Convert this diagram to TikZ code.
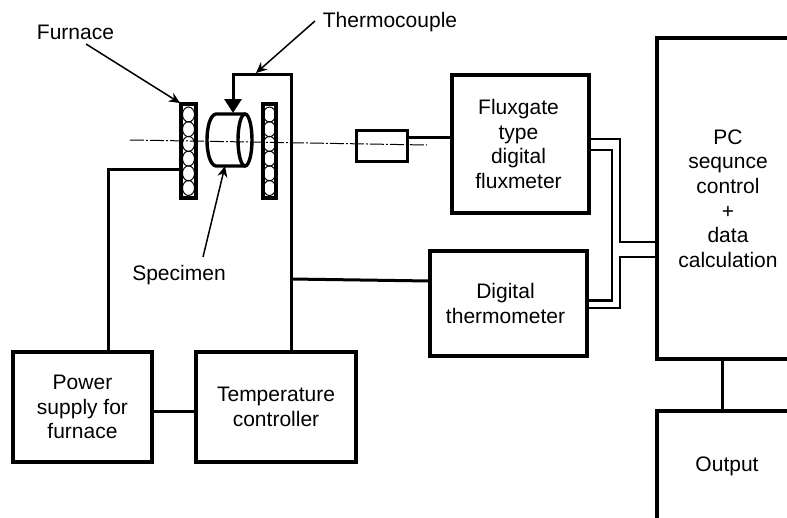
\documentclass[tikz,border=0pt]{standalone}
\usepackage{fontspec}
\setmainfont{Liberation Sans}
\usetikzlibrary{shapes.geometric, arrows.meta, positioning, calc}
\tikzset{
  block/.style={rectangle, draw=black, line width=3.6pt, align=center, inner sep=0pt,
    outer sep=0pt, font=\fontsize{21}{24.6}\selectfont},
  coilbar/.style={rectangle, draw=black, line width=4pt, inner sep=0pt, outer sep=0pt,
    minimum height=94pt},
  coilturn/.style={ellipse, draw=black, line width=1pt, inner sep=0pt, outer sep=0pt,
    minimum width=12pt, minimum height=15pt},
  caption/.style={font=\fontsize{21}{24.6}\selectfont, inner sep=0pt, align=center},
  wire/.style={draw=black, line width=3pt},
  busline/.style={draw=black, line width=2.6pt},
  pointer/.style={-{Stealth[length=11pt, width=10pt]}, line width=1.5pt},
  probe/.style={-{Stealth[length=14pt, width=17pt, inset=0pt]}, line width=3pt},
  axisline/.style={line width=1pt, dash pattern=on 14pt off 2pt on 2pt off 2pt},
}
\begin{document}
\begin{tikzpicture}[x=1pt, y=-1pt]
  \useasboundingbox (0,0) rectangle (787,517);

  % blocks
  \node[block, minimum width=139pt, minimum height=109.5pt] (power) at (82.5,407)
    {Power\\supply for\\furnace};
  \node[block, minimum width=160pt, minimum height=110pt] (ctrl) at (276,407)
    {Temperature\\controller};
  \node[block, minimum width=137pt, minimum height=138pt] (flux) at (520.5,144) {};
  \node[caption] (fluxtext) at (518.5,144) {Fluxgate\\type\\digital\\fluxmeter};
  \node[block, minimum width=157pt, minimum height=105pt] (thermo) at (508.5,303.5) {};
  \node[caption] (thermotext) at (505.5,303.5) {Digital\\thermometer};
  \node[block, minimum width=142pt, minimum height=321pt] (pc) at (728,198.5)
    {PC\\sequnce\\control\\+\\data\\calculation};
  \node[block, minimum width=142pt, minimum height=110pt] (output) at (728,466) {};
  \node[caption, anchor=base] (outtext) at (727,471) {Output};
  \node[block, line width=3pt, minimum width=51pt, minimum height=31pt] (probe) at (381.5,145.5) {};

  % furnace
  \node[coilbar, minimum width=15pt] (furnL) at (188.5,151) {};
  \node[coilbar, minimum width=13pt] (furnR) at (269.5,151) {};
  \foreach \i in {0,...,5} {
    \node[coilturn] (turnL\i) at (188.5,{114.5+\i*14.7}) {};
    \node[coilturn] (turnR\i) at (269.5,{114.5+\i*14.7}) {};
  }

  % specimen
  \node[ellipse, draw=black, line width=3.4pt, inner sep=0pt, outer sep=0pt,
    minimum width=14pt, minimum height=52pt] (spec) at (245,140) {};
  \coordinate (specTL) at (216,114);
  \coordinate (specBL) at (216,166);
  \draw[line width=3.4pt] (spec.north) -- (specTL) .. controls (204,116) and (204,164) .. (specBL)
    -- (spec.south);

  % centre line
  \coordinate (axisA) at (130,140);
  \coordinate (axisB) at (427,145);
  \draw[axisline] (axisA) -- (axisB);

  % wires
  \coordinate (heatbend) at (108,169);
  \draw[wire] (furnL.west |- heatbend) -- (heatbend) -- (heatbend |- power.north);
  \draw[wire] (power.east |- 0,411) -- (ctrl.west |- 0,411);
  \coordinate (tcA) at (291.5,74);
  \coordinate (tcB) at (233,74);
  \coordinate (tcTip) at (233,113);
  \draw[probe] (ctrl.north -| tcA) -- (tcA) -- (tcB) -- (tcTip);
  \coordinate (tap) at (291.5,279);
  \draw[wire] (tap) -- (thermo.west |- 0,281);
  \draw[wire] (probe.east |- 0,137) -- (flux.west |- 0,137);
  \draw[wire] (pc.south -| 722,0) -- (output.north -| 722,0);

  % data lines
  \draw[busline] (flux.east |- 0,139) -- (620,139) -- (620,242) -- (pc.west |- 0,242);
  \draw[busline] (flux.east |- 0,150) -- (612,150) -- (612,300.5) -- (thermo.east |- 0,300.5);
  \draw[busline] (thermo.east |- 0,308) -- (620,308) -- (620,257) -- (pc.west |- 0,257);

  % labels
  \node[caption, anchor=base] (furnlabel) at (75.5,39) {Furnace};
  \node[caption, anchor=base] (tclabel) at (390,27) {Thermocouple};
  \node[caption, anchor=base] (speclabel) at (179,280) {Specimen};
  \coordinate (furnfrom) at (86,44);
  \coordinate (furntip) at (180,103);
  \coordinate (tcfrom) at (315,21);
  \coordinate (tctip) at (256,73);
  \coordinate (specfrom) at (203,257);
  \coordinate (spectip) at (225,166);
  \draw[pointer] (furnfrom) -- (furntip);
  \draw[pointer] (tcfrom) -- (tctip);
  \draw[pointer] (specfrom) -- (spectip);
\end{tikzpicture}
\end{document}
